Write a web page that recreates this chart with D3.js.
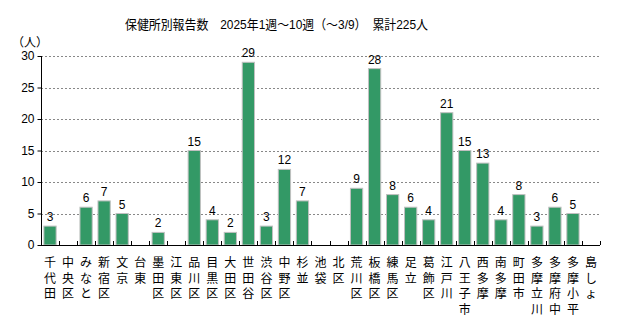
<!DOCTYPE html>
<html lang="ja">
<head>
  <meta charset="UTF-8">
  <title>保健所別報告数</title>
  <style>
    body {
      margin: 0;
      background: #fff;
      font-family: "Liberation Sans", "Noto Sans CJK JP", sans-serif;
    }
    svg { display: block; }
  </style>
</head>
<body>

<svg width="640" height="324"></svg>

<script src="https://d3js.org/d3.v7.min.js"></script>
<script>
  const title = "保健所別報告数　2025年1週～10週（～3/9）　累計225人";

  const areas = [
    "千代田", "中央区", "みなと", "新宿区", "文京", "台東", "墨田区", "江東区",
    "品川区", "目黒区", "大田区", "世田谷", "渋谷区", "中野区", "杉並", "池袋",
    "北区", "荒川区", "板橋区", "練馬区", "足立", "葛飾区", "江戸川", "八王子市",
    "西多摩", "南多摩", "町田市", "多摩立川", "多摩府中", "多摩小平", "島しょ"
  ];
  const counts = [
    3, 0, 6, 7, 5, 0, 2, 0,
    15, 4, 2, 29, 3, 12, 7, 0,
    0, 9, 28, 8, 6, 4, 21, 15,
    13, 4, 8, 3, 6, 5, 0
  ];
  const yTicks = [0, 5, 10, 15, 20, 25, 30];

  const data = areas.map((a, i) => ({ area: a, n: counts[i] }));

  const svg = d3.select("svg");
  const plotL = 41, plotR = 600, plotT = 56, plotB = 245;

  const x = d3.scaleBand()
    .domain(areas)
    .range([plotL, plotR])
    .paddingInner(0.32)
    .paddingOuter(0.16);

  const y = d3.scaleLinear()
    .domain([0, 30])
    .range([plotB, plotT]);

  // title
  svg.append("text")
    .attr("x", 125)
    .attr("y", 29)
    .attr("font-size", "13px")
    .attr("textLength", 303)
    .attr("lengthAdjust", "spacingAndGlyphs")
    .attr("fill", "#000")
    .text(title);

  // unit
  svg.append("text")
    .attr("x", 30)
    .attr("y", 47)
    .attr("text-anchor", "middle")
    .attr("font-size", "12px")
    .text("（人）");

  // dashed grid lines
  svg.append("g")
    .selectAll("line")
    .data(yTicks.filter(d => d > 0))
    .enter()
    .append("line")
    .attr("x1", plotL)
    .attr("x2", plotR)
    .attr("y1", d => Math.round(y(d)) + 0.5)
    .attr("y2", d => Math.round(y(d)) + 0.5)
    .attr("stroke", "#888")
    .attr("stroke-dasharray", "2,2");

  // y axis
  const yAxis = svg.append("g")
    .attr("transform", `translate(${plotL + 0.5},0)`)
    .call(d3.axisLeft(y).tickValues(yTicks).tickSize(4).tickPadding(3));
  yAxis.select(".domain").attr("stroke", "#000").attr("d", `M0,${plotT}V${plotB + 0.5}`);
  yAxis.selectAll("line").attr("stroke", "#000");
  yAxis.selectAll("text")
    .attr("font-family", "Liberation Sans, sans-serif")
    .attr("font-size", "12px")
    .attr("fill", "#000");

  // bars
  svg.append("g")
    .selectAll("rect")
    .data(data)
    .enter()
    .append("rect")
    .attr("x", d => x(d.area))
    .attr("y", d => y(d.n))
    .attr("width", x.bandwidth())
    .attr("height", d => y(0) - y(d.n))
    .attr("fill", "#339966")
    .attr("stroke", "#c0c0c0")
    .attr("stroke-width", 1);

  // value labels
  svg.append("g")
    .selectAll("text")
    .data(data.filter(d => d.n > 0))
    .enter()
    .append("text")
    .attr("x", d => x(d.area) + x.bandwidth() / 2)
    .attr("y", d => y(d.n) - 5)
    .attr("text-anchor", "middle")
    .attr("font-size", "12px")
    .attr("fill", "#000")
    .text(d => d.n);

  // x axis line + inward ticks between categories
  const bounds = d3.range(1, areas.length + 1).map(i => plotL + i * (plotR - plotL) / areas.length);
  svg.append("line")
    .attr("x1", plotL)
    .attr("x2", plotR)
    .attr("y1", plotB + 0.5)
    .attr("y2", plotB + 0.5)
    .attr("stroke", "#000");
  svg.append("g")
    .selectAll("line")
    .data(bounds)
    .enter()
    .append("line")
    .attr("x1", d => Math.round(d) + 0.5)
    .attr("x2", d => Math.round(d) + 0.5)
    .attr("y1", plotB)
    .attr("y2", plotB - 4)
    .attr("stroke", "#000");

  // vertical category labels
  svg.append("g")
    .selectAll("text")
    .data(data)
    .enter()
    .append("text")
    .attr("text-anchor", "middle")
    .attr("font-size", "12px")
    .attr("fill", "#000")
    .each(function(d) {
      const cx = x(d.area) + x.bandwidth() / 2;
      d3.select(this).selectAll("tspan")
        .data(Array.from(d.area))
        .enter()
        .append("tspan")
        .attr("x", cx)
        .attr("y", (c, j) => 267 + j * 15.5)
        .text(c => c);
    });
</script>

</body>
</html>
